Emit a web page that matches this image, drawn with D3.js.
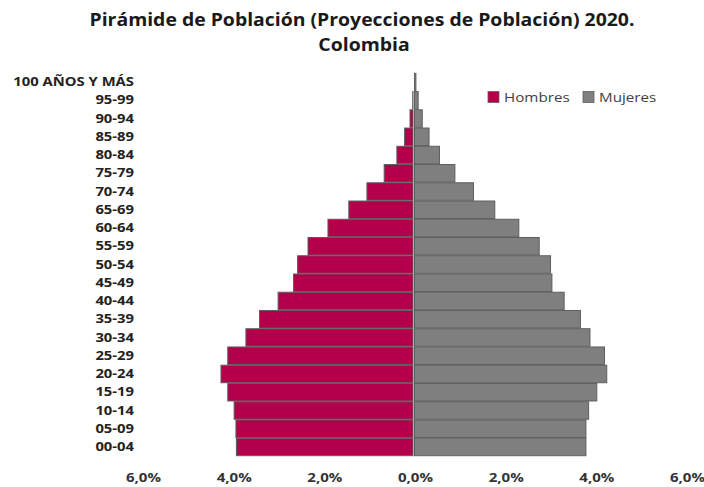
<!DOCTYPE html>
<html><head><meta charset="utf-8">
<script src="https://cdn.jsdelivr.net/npm/d3@7"></script>
<style>body{margin:0;background:#fff}svg{display:block}text{font-family:"Open Sans",sans-serif}</style>
</head><body>
<svg id="c" width="704" height="487"></svg>
<script>
const categories = ["00-04","05-09","10-14","15-19","20-24","25-29","30-34","35-39","40-44","45-49","50-54","55-59","60-64","65-69","70-74","75-79","80-84","85-89","90-94","95-99","100 AÑOS Y MÁS"];
const hombres = [3.94,3.95,3.99,4.13,4.28,4.13,3.73,3.43,3.02,2.68,2.59,2.36,1.92,1.46,1.06,0.68,0.40,0.23,0.11,0.05,0.01];
const mujeres = [3.77,3.77,3.83,4.01,4.23,4.18,3.86,3.65,3.29,3.02,2.99,2.74,2.29,1.76,1.29,0.88,0.54,0.31,0.16,0.07,0.02];
const tickValues = [-6,-4,-2,0,2,4,6];
const tickLabels = ["6,0%","4,0%","2,0%","0,0%","2,0%","4,0%","6,0%"];
const seriesNames = ["Hombres","Mujeres"];
const colors = ["#B4004A","#7F7F7F"];

const svg = d3.select("#c");
const x = d3.scaleLinear().domain([-6,6]).range([143,687]);
const y = d3.scaleBand().domain(categories).range([455.7,73.3]).paddingInner(0.04);

// title
const tg = svg.append("g");
[["Pirámide de Población (Proyecciones de Población) 2020.",362,26],["Colombia",364,51]].forEach(([t,tx,ty])=>{
  tg.append("g").attr("transform",`translate(${tx},${ty}) scale(1.11,1)`)
    .append("text").attr("text-anchor","middle")
    .attr("font-size",17.5).attr("font-weight",700).attr("fill","#1a1a1a").text(t);
});

const g = svg.append("g");
g.selectAll("rect.h").data(categories).join("rect").attr("class","h")
  .attr("x",(d,i)=>x(-hombres[i]))
  .attr("width",(d,i)=>Math.max(0,x(0)-2-x(-hombres[i])))
  .attr("y",d=>y(d)).attr("height",y.bandwidth())
  .attr("fill",colors[0]).attr("stroke","#5f5f5f").attr("stroke-width",1);
g.selectAll("rect.m").data(categories).join("rect").attr("class","m")
  .attr("x",x(0)-0.5)
  .attr("width",(d,i)=>x(mujeres[i])-x(0)+0.5)
  .attr("y",d=>y(d)).attr("height",y.bandwidth())
  .attr("fill",colors[1]).attr("stroke","#5f5f5f").attr("stroke-width",1);

// y labels
const ya = svg.append("g").attr("transform","translate(134,0)")
  .call(d3.axisLeft(y).tickSize(0).tickPadding(0));
ya.select(".domain").remove();
ya.selectAll("text").attr("font-family","Open Sans").attr("font-size",13).attr("font-weight",700).attr("fill","#222")
  .attr("transform","scale(1.14,1)");

// x labels
const xa = svg.append("g").attr("transform","translate(0,473)")
  .call(d3.axisBottom(x).tickValues(tickValues).tickSize(0).tickPadding(0).tickFormat((d,i)=>tickLabels[i]));
xa.select(".domain").remove();
xa.selectAll("text").attr("font-family","Open Sans").attr("font-size",13).attr("font-weight",700).attr("fill","#333")
  .attr("transform","scale(1.16,1)");

// legend
const lg = svg.append("g");
const lx = [488,583];
seriesNames.forEach((n,i)=>{
  lg.append("rect").attr("x",lx[i]).attr("y",91.5).attr("width",11).attr("height",11).attr("fill",colors[i]).attr("stroke","#5f5f5f").attr("stroke-width",0.8);
  lg.append("g").attr("transform",`translate(${lx[i]+16},101.5) scale(1.17,1)`)
    .append("text").attr("font-size",13).attr("fill","#404040").text(n);
});
</script>
</body></html>
